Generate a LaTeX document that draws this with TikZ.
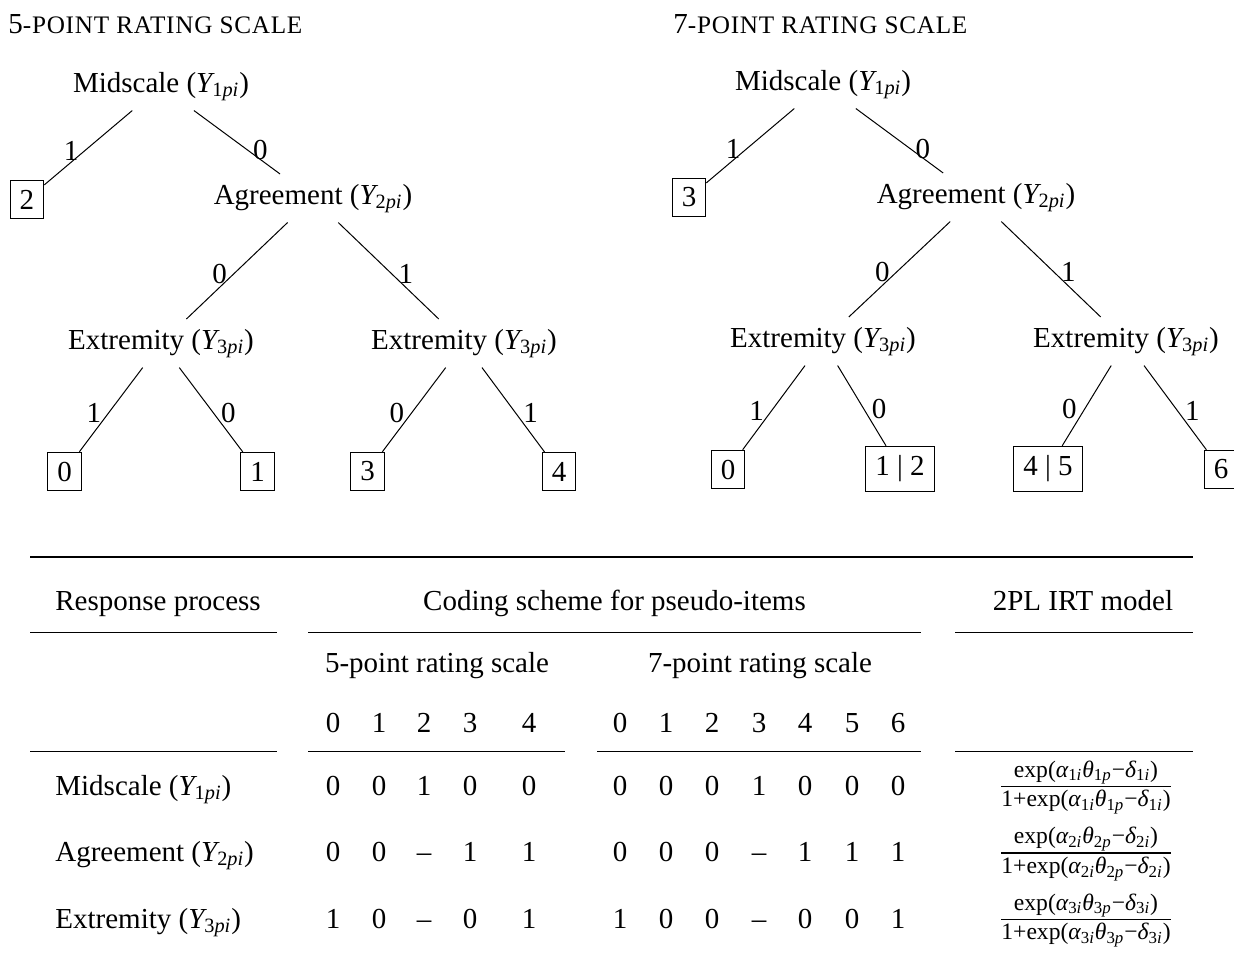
\documentclass[tikz,border=0pt]{standalone}
\usepackage{fontspec}
\usepackage{amsmath}
\setmainfont{Liberation Serif}
\newcommand\itx[1]{\text{\itshape #1}}
\newcommand\Yv[1]{$\itx{Y}_{\text{#1}\itx{pi}}$}
\newcommand\irtpart[1]{\text{exp(}\itx{α}_{\text{#1}\itx{i}}\itx{θ}_{\text{#1}\itx{p}}\text{−}\itx{δ}_{\text{#1}\itx{i}}\text{)}}
\newcommand\irt[1]{$\frac{\irtpart{#1}}{\text{1+}\irtpart{#1}}$}
\newcommand\scaps[1]{{\fontsize{12.6}{14}\selectfont\addfontfeature{LetterSpace=3}#1}}
\tikzset{
  edge/.style={line width=0.5pt},
  leaf/.style={draw, line width=0.5pt, inner sep=4.75pt},
  inner/.style={anchor=base, inner sep=4.75pt},
  elab/.style={inner sep=4.75pt, yshift=-1.5pt},
  elabwide/.style={elab, xshift=3pt, yshift=-2.5pt},
  rule/.style={line width=0.5pt},
  toprule/.style={line width=1pt},
  cell/.style={anchor=base, inner sep=0pt},
  formula/.style={cell, font=\fontsize{16.86}{20}\selectfont},
}
\begin{document}
\begin{tikzpicture}[x=0.5pt, y=-0.5pt, font=\fontsize{14.5}{17}\selectfont]
\useasboundingbox (0,0) rectangle (1234,955);
% ---------- headings
\node[cell, anchor=base west] (h5) at (8,33) {5\scaps{-POINT RATING SCALE}};
\node[cell, anchor=base west] (h7) at (673,33) {7\scaps{-POINT RATING SCALE}};
% ---------- 5-point tree
\node[inner] (m1) at (161,92) {Midscale (\Yv{1})};
\node[leaf] (l2) at (27,199.5) {2};
\node[inner] (a1) at (313,204) {Agreement (\Yv{2})};
\node[inner] (e1) at (161,349) {Extremity (\Yv{3})};
\node[inner] (e2) at (464,349) {Extremity (\Yv{3})};
\node[leaf] (l0) at (64.5,471.5) {0};
\node[leaf] (l1) at (257.5,471.5) {1};
\node[leaf] (l3) at (367.5,471.5) {3};
\node[leaf] (l4) at (559,471.5) {4};
\draw[edge] (m1) -- node[elab,left]{1} (l2);
\draw[edge] (m1) -- node[elabwide,right]{0} (a1);
\draw[edge] (a1) -- node[elab,left]{0} (e1);
\draw[edge] (a1) -- node[elab,right]{1} (e2);
\draw[edge] (e1) -- node[elab,left]{1} (l0);
\draw[edge] (e1) -- node[elab,right]{0} (l1);
\draw[edge] (e2) -- node[elab,left]{0} (l3);
\draw[edge] (e2) -- node[elab,right]{1} (l4);
% ---------- 7-point tree
\node[inner] (m2) at (823,90) {Midscale (\Yv{1})};
\node[leaf] (r3) at (689,197.5) {3};
\node[inner] (a2) at (976,203) {Agreement (\Yv{2})};
\node[inner] (e3) at (823,347) {Extremity (\Yv{3})};
\node[inner] (e4) at (1126,347) {Extremity (\Yv{3})};
\node[leaf] (r0) at (728,469.5) {0};
\node[leaf] (r12) at (900,469) {1 | 2};
\node[leaf] (r45) at (1048,469) {4 | 5};
\node[leaf] (r6) at (1221,469.5) {6};
\draw[edge] (m2) -- node[elab,left]{1} (r3);
\draw[edge] (m2) -- node[elabwide,right]{0} (a2);
\draw[edge] (a2) -- node[elab,left]{0} (e3);
\draw[edge] (a2) -- node[elab,right]{1} (e4);
\draw[edge] (e3) -- node[elab,left]{1} (r0);
\draw[edge] (e3) -- node[elab,right]{0} (r12);
\draw[edge] (e4) -- node[elab,left]{0} (r45);
\draw[edge] (e4) -- node[elab,right]{1} (r6);
% ---------- table rules
\draw[toprule] (30,557) -- (1193,557);
\draw[rule] (30,632) -- (277,632);
\draw[rule] (308,632) -- (921,632);
\draw[rule] (955,632) -- (1193,632);
\draw[rule] (30,751) -- (277,751);
\draw[rule] (308,751) -- (565,751);
\draw[rule] (597,751) -- (921,751);
\draw[rule] (955,751) -- (1193,751);
% ---------- table header
\node[cell, anchor=base west] (th1) at (55,610) {Response process};
\node[cell] (th2) at (614.5,610) {Coding scheme for pseudo-items};
\node[cell] (th3) at (1083,610) {2PL IRT model};
\node[cell] (ts5) at (437,672) {5-point rating scale};
\node[cell] (ts7) at (760,672) {7-point rating scale};
\foreach \v/\x in {0/333,1/379,2/424,3/470,4/529}
  \node[cell] (c5\v) at (\x,732) {\v};
\foreach \v/\x in {0/620,1/666,2/712,3/759,4/805,5/852,6/898}
  \node[cell] (c7\v) at (\x,732) {\v};
% ---------- table body
\node[cell, anchor=base west] (rw1) at (55,795) {Midscale (\Yv{1})};
\node[cell, anchor=base west] (rw2) at (55,861.5) {Agreement (\Yv{2})};
\node[cell, anchor=base west] (rw3) at (55,928) {Extremity (\Yv{3})};
\foreach \r/\y/\fa/\fb/\fc/\fd/\fe/\sa/\sb/\sc/\sd/\se/\sf/\sg in
  {1/795/0/0/1/0/0/0/0/0/1/0/0/0,
   2/861.5/0/0/–/1/1/0/0/0/–/1/1/1,
   3/928/1/0/–/0/1/1/0/0/–/0/0/1}{
  \node[cell] (v\r a) at (333,\y) {\fa};
  \node[cell] (v\r b) at (379,\y) {\fb};
  \node[cell] (v\r c) at (424,\y) {\fc};
  \node[cell] (v\r d) at (470,\y) {\fd};
  \node[cell] (v\r e) at (529,\y) {\fe};
  \node[cell] (w\r a) at (620,\y) {\sa};
  \node[cell] (w\r b) at (666,\y) {\sb};
  \node[cell] (w\r c) at (712,\y) {\sc};
  \node[cell] (w\r d) at (759,\y) {\sd};
  \node[cell] (w\r e) at (805,\y) {\se};
  \node[cell] (w\r f) at (852,\y) {\sf};
  \node[cell] (w\r g) at (898,\y) {\sg};
  \node[formula] (f\r) at (1086,\y) {\irt{\r}};
}
\end{tikzpicture}
\end{document}
